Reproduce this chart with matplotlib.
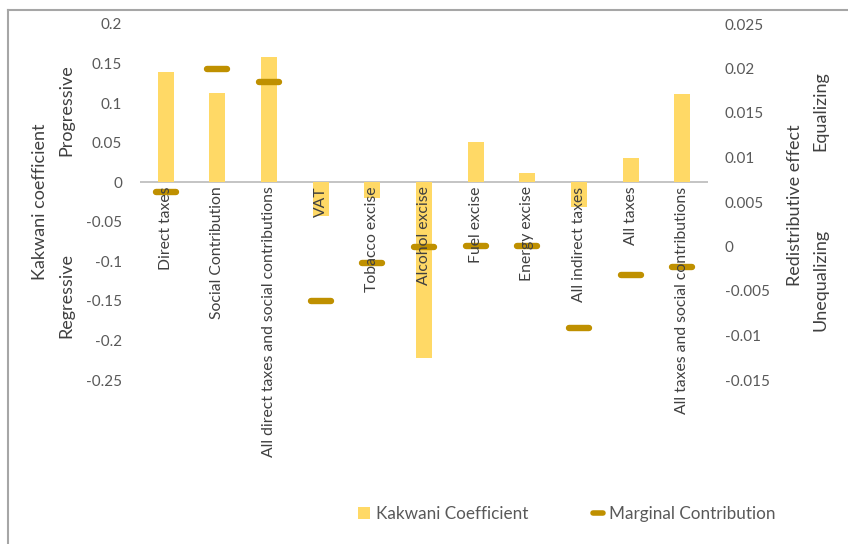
import numpy as np
import matplotlib
matplotlib.use("Agg")
import matplotlib.pyplot as plt
from matplotlib.lines import Line2D
from matplotlib.patches import Patch
from matplotlib.markers import MarkerStyle

plt.rcParams['font.family'] = ['Lato', 'DejaVu Sans']

# --- data ---
categories = [
    "Direct taxes", "Social Contribution", "All direct taxes and social contributions",
    "VAT", "Tobacco excise", "Alcohol excise", "Fuel excise", "Energy excise",
    "All indirect taxes", "All taxes", "All taxes and social contributions",
]
kakwani = [0.139, 0.113, 0.158, -0.043, -0.020, -0.222, 0.051, 0.012, -0.031, 0.031, 0.111]
marginal = [0.0061, 0.0199, 0.0185, -0.0061, -0.0019, -0.0001, 0.0001, 0.0001, -0.0092, -0.0032, -0.0023]

left_ticks = [0.2, 0.15, 0.1, 0.05, 0, -0.05, -0.1, -0.15, -0.2, -0.25]
right_ticks = [0.025, 0.02, 0.015, 0.01, 0.005, 0, -0.005, -0.01, -0.015]

bar_color = '#FFD966'
mark_color = '#BF9000'
text_color = '#595959'

# --- figure ---
fig = plt.figure(figsize=(8.48, 5.44), dpi=100)
ax = fig.add_axes([140 / 848, 1 - 380 / 544, 568 / 848, 356 / 544])
ax2 = ax.twinx()

x = np.arange(len(categories))
ax.bar(x, kakwani, width=0.31, color=bar_color, zorder=2)
ax.axhline(0, color='#BFBFBF', lw=1.3, zorder=1)

mk = MarkerStyle('_', capstyle='round')
ax2.plot(x, marginal, linestyle='none', marker=mk, markersize=14.5,
         markeredgewidth=4.6, color=mark_color, zorder=3)

ax.set_xlim(-0.5, len(categories) - 0.5)
ax.set_ylim(-0.25, 0.2)
ax2.set_ylim(-0.015, 0.025)

ax.set_yticks(left_ticks)
ax.set_yticklabels([f"{v:g}" for v in left_ticks])
ax2.set_yticks(right_ticks)
ax2.set_yticklabels([f"{v:g}" for v in right_ticks])
ax.set_xticks([])

for a in (ax, ax2):
    for s in a.spines.values():
        s.set_visible(False)
    a.tick_params(axis='y', length=0, labelsize=11, labelcolor=text_color)
ax.tick_params(axis='y', pad=13)
ax2.tick_params(axis='y', pad=12)

# category names hang down from the zero line
for i, name in enumerate(categories):
    ax2.annotate(name, xy=(i, 0), xycoords=ax.transData, xytext=(0, -3),
                 textcoords='offset points', rotation=90, ha='center', va='top',
                 fontsize=11.3, color='#404040', zorder=5)

# axis titles
def side_text(px, py, s, size=13):
    fig.text(px / 848, 1 - py / 544, s, rotation=90, ha='center', va='center',
             fontsize=size, color='#404040')

side_text(40, 202, "Kakwani coefficient")
side_text(66, 110, "Progressive")
side_text(66, 296, "Regressive")
side_text(795, 205, "Redistributive effect")
side_text(820, 111, "Equalizing")
side_text(820, 280, "Unequalizing")

# legend
handles = [
    Patch(facecolor=bar_color, edgecolor='none', label='Kakwani Coefficient'),
    Line2D([], [], linestyle='none', marker=mk, markersize=7, markeredgewidth=4,
           color=mark_color, label='Marginal Contribution'),
]
leg = fig.legend(handles=handles, loc='center', bbox_to_anchor=(567 / 848, 1 - 514 / 544),
                 ncol=2, frameon=False, fontsize=12.3, handlelength=0.7, handleheight=0.7,
                 handletextpad=0.35, columnspacing=3.7)
for t in leg.get_texts():
    t.set_color(text_color)

# outer frame (left and top edges)
fig.add_artist(Line2D([8 / 848, 8 / 848], [0, 1 - 10 / 544], transform=fig.transFigure,
                      color='#A6A6A6', lw=1.5))
fig.add_artist(Line2D([8 / 848, 1], [1 - 10 / 544, 1 - 10 / 544], transform=fig.transFigure,
                      color='#A6A6A6', lw=1.5))

fig.savefig('out.png', dpi=100)
